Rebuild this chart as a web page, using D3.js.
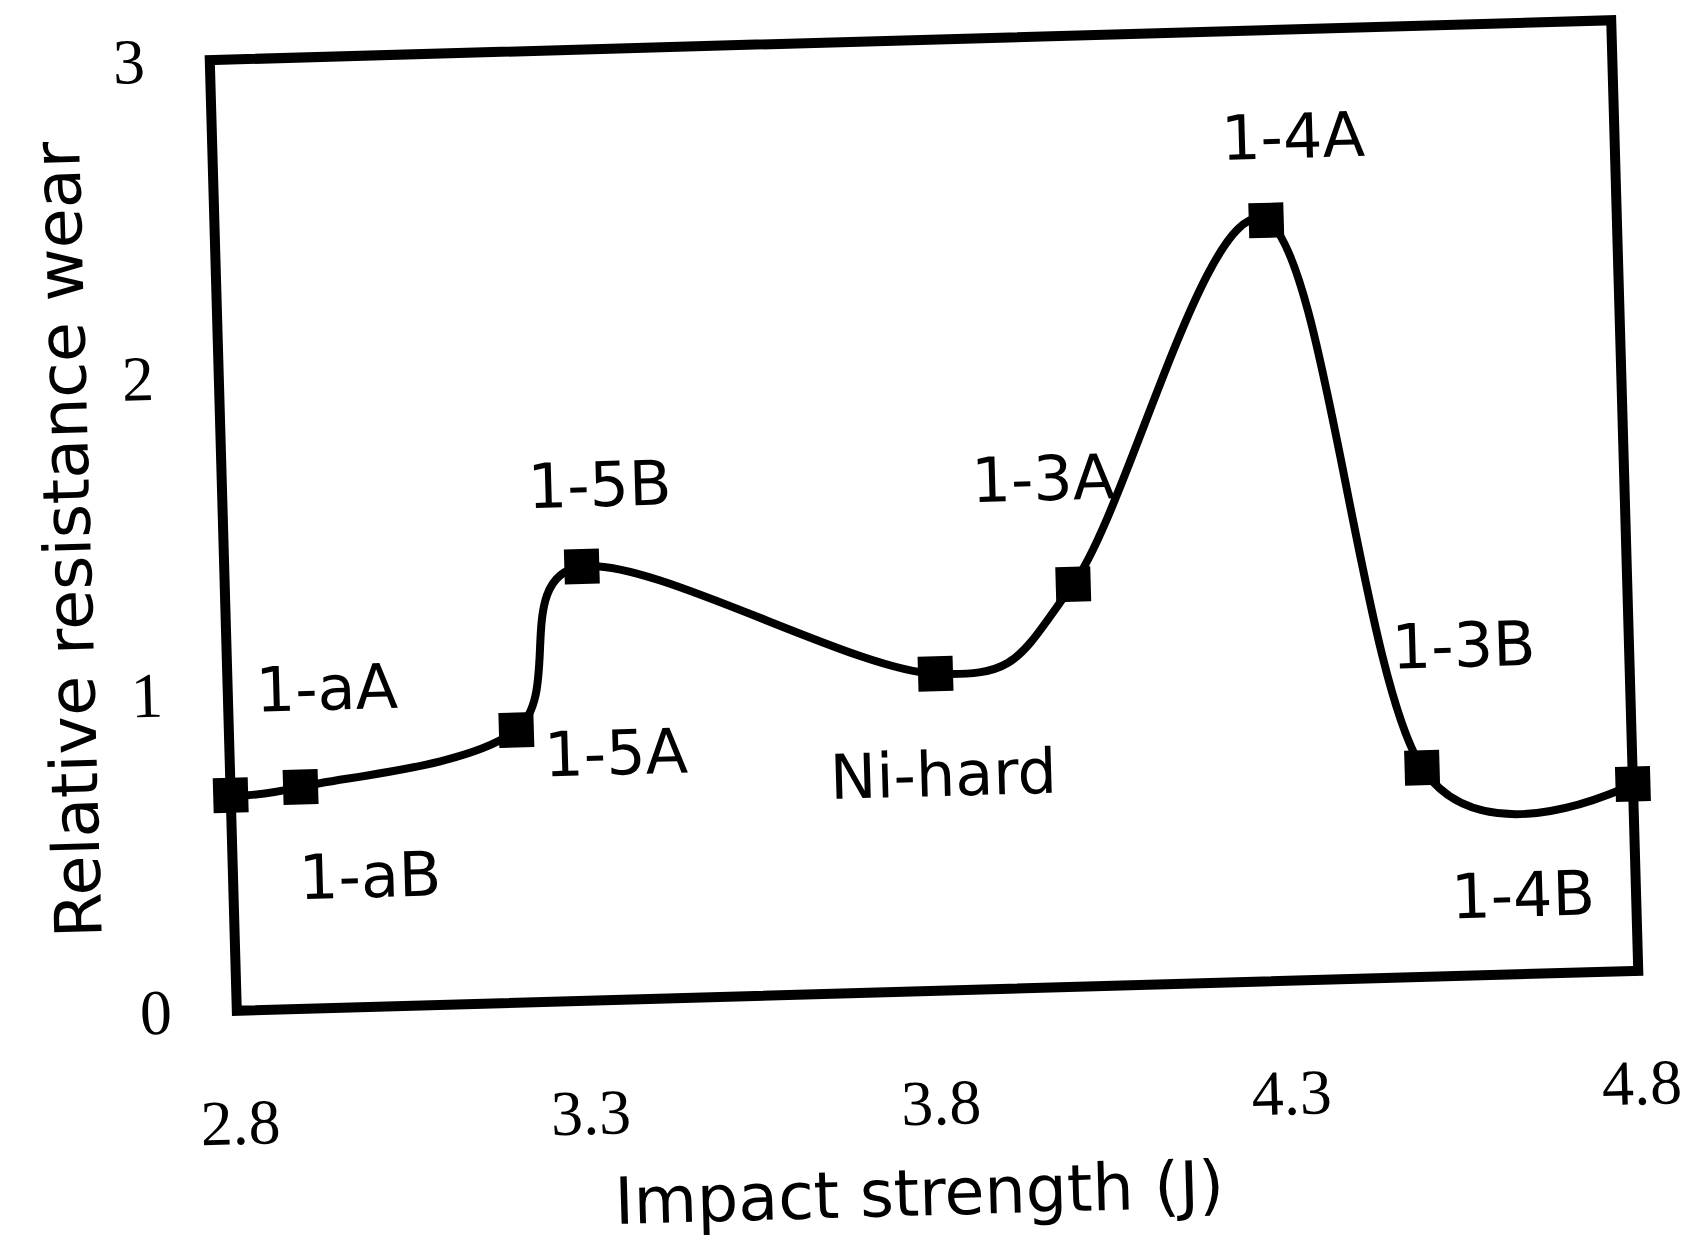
<!DOCTYPE html>
<html>
<head>
<meta charset="utf-8">
<script src="https://cdn.jsdelivr.net/npm/d3@7"></script>
<style>
  body { margin: 0; background: #fff; }
  .tick text { font-family: "Liberation Serif", serif; }
</style>
</head>
<body>
<div class="root"></div>
<script>
// impact strength (J) and relative wear resistance for each alloy
var names = ["1-aA", "1-aB", "1-5A", "1-5B", "Ni-hard", "1-3A", "1-4A", "1-3B", "1-4B"];
var impact = [2.8, 2.9, 3.21, 3.31, 3.81, 4.01, 4.3, 4.5, 4.8];
var wear = [0.68, 0.70, 0.86, 1.37, 1.00, 1.27, 2.40, 0.66, 0.59];
var xTicks = [2.8, 3.3, 3.8, 4.3, 4.8];
var yTicks = [0, 1, 2, 3];

// label placement, pixels from each marker
var labelOffsets = [[99, -105], [67, 90], [99, 25], [20, -82], [5, 100], [-27, -107], [29, -84], [45, -122], [-113, 107]];

var width = 1685, height = 1247;
var margin = {left: 223, top: 40};
var w = 1402, h = 951;

var svg = d3.select(".root").append("svg")
  .attr("width", width)
  .attr("height", height);

// the scanned figure sits slightly tilted
var g = svg.append("g")
  .attr("transform", "rotate(-1.63, 924, 515)")
  .append("g")
  .attr("transform", "translate(" + margin.left + "," + margin.top + ")");

var x = d3.scaleLinear().domain([2.8, 4.8]).range([0, w]);
var y = d3.scaleLinear().domain([0, 3]).range([h, 0]);

var xAxis = g.append("g")
  .attr("transform", "translate(0," + h + ")")
  .call(d3.axisBottom(x).tickValues(xTicks).tickSize(0).tickPadding(88).tickFormat(d3.format(".1f")));
var yAxis = g.append("g")
  .call(d3.axisLeft(y).tickValues(yTicks).tickSize(0).tickPadding(65).tickFormat(d3.format("d")));
[xAxis, yAxis].forEach(function (a) {
  a.select(".domain").remove();
  a.selectAll("text").attr("font-size", 64).attr("fill", "#000");
});

g.append("rect")
  .attr("x", 0)
  .attr("y", 0)
  .attr("width", w)
  .attr("height", h)
  .attr("fill", "none")
  .attr("stroke", "#000")
  .attr("stroke-width", 10);

var points = impact.map(function (d, i) {
  return {x: d, y: wear[i], name: names[i], off: labelOffsets[i]};
});

var line = d3.line()
  .x(function (d) { return x(d.x); })
  .y(function (d) { return y(d.y); })
  .curve(d3.curveCardinal.tension(0));

g.append("path")
  .datum(points)
  .attr("d", line)
  .attr("fill", "none")
  .attr("stroke", "#000")
  .attr("stroke-width", 8);

var size = 35;
g.selectAll("rect.marker")
  .data(points)
  .enter().append("rect")
  .attr("class", "marker")
  .attr("x", function (d) { return x(d.x) - size / 2; })
  .attr("y", function (d) { return y(d.y) - size / 2; })
  .attr("width", size)
  .attr("height", size)
  .attr("fill", "#000");

g.selectAll("text.label")
  .data(points)
  .enter().append("text")
  .attr("class", "label")
  .attr("x", function (d) { return x(d.x) + d.off[0]; })
  .attr("y", function (d) { return y(d.y) + d.off[1]; })
  .attr("dy", "0.36em")
  .attr("text-anchor", "middle")
  .attr("font-family", "DejaVu Sans, sans-serif")
  .attr("font-size", 62)
  .text(function (d) { return d.name; });

g.append("text")
  .attr("x", 677)
  .attr("y", h + 224)
  .attr("text-anchor", "middle")
  .attr("font-family", "DejaVu Sans, sans-serif")
  .attr("font-size", 65)
  .text("Impact strength (J)");

g.append("text")
  .attr("transform", "translate(-133," + (h / 2) + ") rotate(-90)")
  .attr("text-anchor", "middle")
  .attr("font-family", "DejaVu Sans, sans-serif")
  .attr("font-size", 65)
  .text("Relative resistance wear");
</script>
</body>
</html>
